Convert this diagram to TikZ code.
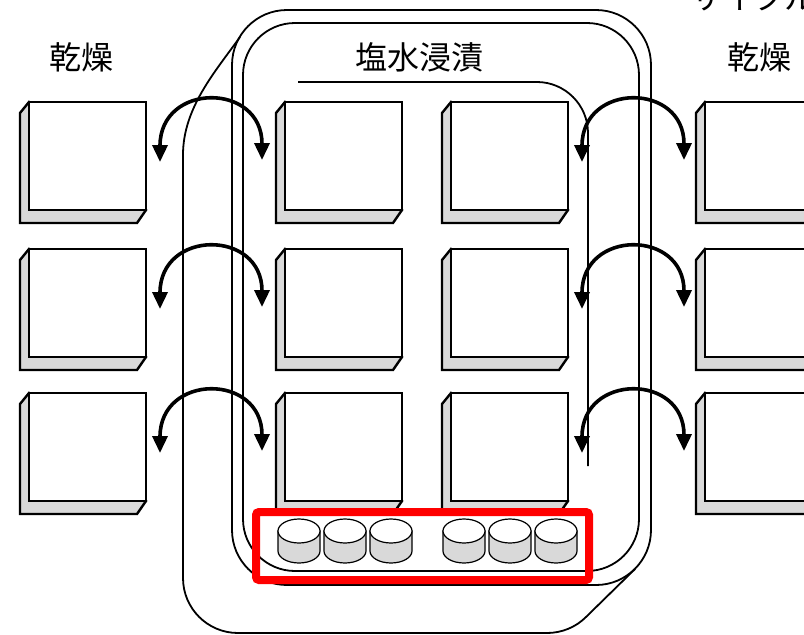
\documentclass[tikz,border=0pt]{standalone}
\usepackage{fontspec}
\newfontfamily\jp{Noto Sans CJK JP}
\usetikzlibrary{arrows.meta}
\begin{document}
\begin{tikzpicture}[x=1pt,y=-1pt,
  face/.style={draw, line width=2.4pt, fill=white, minimum width=117pt, minimum height=108pt, inner sep=0pt, outer sep=0pt, anchor=north west},
  bevel/.style={draw, line width=2.4pt, fill=gray!30, line join=miter},
  wall/.style={line width=1.8pt},
  swap/.style={line width=3.6pt, {Triangle[width=15pt,length=17pt]}-{Triangle[width=15pt,length=17pt]}},
  cyl/.style={line width=1.2pt},
  lbl/.style={font=\jp\fontsize{32}{32}\selectfont, inner sep=0pt},
  redframe/.style={draw=red, line width=8pt, rounded corners=3pt}]
\useasboundingbox (0,0) rectangle (804,635);
\clip (0,0) rectangle (804,635);

% layered containers
\draw[wall, rounded corners=55pt] (232,10) rectangle (651,585);
\draw[wall, rounded corners=52pt] (243,23) rectangle (639,571);
\draw[wall] (240,37) .. controls (215,72) and (183,108) .. (183,155)
  -- (183,578) .. controls (183,608.4) and (207.6,633) .. (238,633)
  -- (547,633) .. controls (561.6,633) and (575.7,627.3) .. (586,617)
  -- (635,569);
\draw[wall] (298,82) -- (537,82) .. controls (565,82) and (588,105) .. (588,133) -- (588,466);

% specimen boxes
\foreach \X/\cn in {29/1,285/2,451/3,705/4}{
  \foreach \Y/\rn in {102/1,249/2,393/3}{
    \filldraw[bevel] (\X,\Y) -- ({\X-9},{\Y+11}) -- ({\X-9},{\Y+121}) -- ({\X+108},{\Y+121}) -- ({\X+117},{\Y+108}) -- cycle;
    \node[face] (b\rn\cn) at (\X,\Y) {};
  }
}

% exchange arrows
\foreach \Y/\rn in {102/1,249/2,393/3}{
  \coordinate (la\rn) at (160,{\Y+60});
  \coordinate (lb\rn) at (262,{\Y+58});
  \coordinate (ra\rn) at (582,{\Y+60});
  \coordinate (rb\rn) at (684,{\Y+58});
  \draw[swap] (la\rn) .. controls (160,{\Y-20}) and (262,{\Y-20}) .. (lb\rn);
  \draw[swap] (ra\rn) .. controls (582,{\Y-20}) and (684,{\Y-20}) .. (rb\rn);
}

% cylinders
\foreach \c in {299,345,391,464,510,556}{
  \filldraw[cyl, fill=gray!30] ({\c-21},531) -- ({\c-21},551)
    .. controls ({\c-21},557.6) and ({\c-11.6},563) .. (\c,563)
    .. controls ({\c+11.6},563) and ({\c+21},557.6) .. ({\c+21},551)
    -- ({\c+21},531) -- cycle;
  \filldraw[cyl, fill=white] (\c,531) ellipse [x radius=21pt, y radius=12pt];
}

\draw[redframe] (256,512) rectangle (589,580);

% labels
\node[lbl] (dry1) at (81,57) {乾燥};
\node[lbl] (brine) at (419,57) {塩水浸漬};
\node[lbl] (dry2) at (759,57) {乾燥};
\node[lbl, anchor=base west] (cycle) at (690,9) {サイクル};
\end{tikzpicture}
\end{document}
